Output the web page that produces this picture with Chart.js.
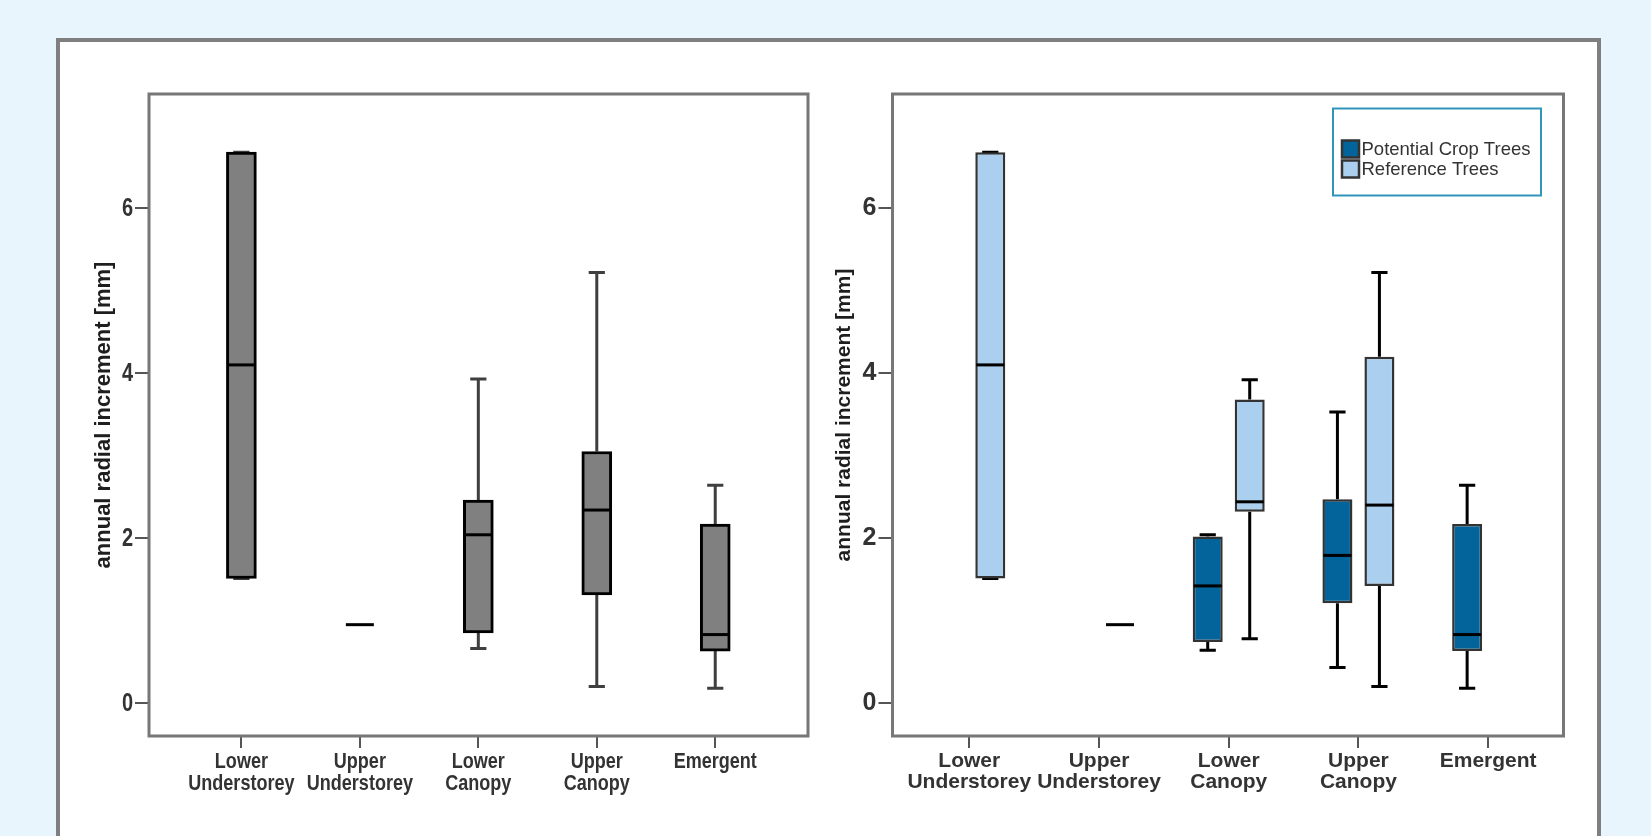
<!DOCTYPE html>
<html>
<head>
<meta charset="utf-8">
<title>annual radial increment</title>
<script src="https://cdn.jsdelivr.net/npm/chart.js@4.4.1/dist/chart.umd.min.js"></script>
<style>
  html, body { margin: 0; padding: 0; }
  body { background: #e9f5fd; width: 1651px; height: 836px; overflow: hidden; position: relative; }
  #marco { position: absolute; left: 56px; top: 38px; width: 1545px; height: 900px; box-sizing: border-box; border: 4.5px solid #7f7f7f; background: #fff; }
  canvas { position: absolute; top: 44px; }
  #graficoTodos { left: 60px; }
  #graficoGrupos { left: 830px; }
</style>
</head>
<body>
<div id="marco"></div>
<canvas id="graficoTodos" width="768" height="792"></canvas>
<canvas id="graficoGrupos" width="768" height="792"></canvas>
<script>
// Categorías del eje x y marcas del eje y
const categorias = [['Lower', 'Understorey'], ['Upper', 'Understorey'], ['Lower', 'Canopy'], ['Upper', 'Canopy'], ['Emergent']];
const ticksY = [0, 2, 4, 6];
const tituloY = 'annual radial increment [mm]';
const etiquetasSeries = ['Potential Crop Trees', 'Reference Trees'];

// Todos los árboles (gráfico izquierdo)
const todosMin = [1.51, 0.95, 0.66, 0.20, 0.18];
const todosQ1 = [1.51, 0.95, 0.85, 1.31, 0.63];
const todosMediana = [4.10, 0.95, 2.04, 2.34, 0.83];
const todosQ3 = [6.68, 0.95, 2.46, 3.05, 2.17];
const todosMax = [6.68, 0.95, 3.93, 5.22, 2.64];

// Potential Crop Trees
const cultivoMin = [null, null, 0.64, 0.43, 0.18];
const cultivoQ1 = [null, null, 0.74, 1.21, 0.63];
const cultivoMediana = [null, null, 1.42, 1.79, 0.83];
const cultivoQ3 = [null, null, 2.02, 2.47, 2.17];
const cultivoMax = [null, null, 2.04, 3.53, 2.64];

// Reference Trees
const refMin = [1.51, 0.95, 0.78, 0.20, null];
const refQ1 = [1.51, 0.95, 2.32, 1.42, null];
const refMediana = [4.10, 0.95, 2.44, 2.40, null];
const refQ3 = [6.68, 0.95, 3.68, 4.20, null];
const refMax = [6.68, 0.95, 3.92, 5.22, null];

const fuenteNormal = "'Liberation Sans', Arial, sans-serif";

// Barras flotantes [q1, q3] para las cajas
function datosCaja(q1, q3) {
    return q1.map((v, i) => ({ x: i, y: v === null ? null : [v, q3[i]] }));
}

// Plugin: marco del área, bigotes y medianas
const pluginCajas = {
    id: 'cajas',
    beforeDatasetsDraw(chart) {
        const ctx = chart.ctx;
        const area = chart.chartArea;
        const escalaY = chart.scales.y;
        ctx.save();
        ctx.strokeStyle = '#777777';
        ctx.lineWidth = 3;
        ctx.strokeRect(area.left, area.top, area.right - area.left, area.bottom - area.top);

        chart.data.datasets.forEach((ds, d) => {
            const meta = chart.getDatasetMeta(d);
            ctx.strokeStyle = ds.colorBigote;
            ctx.lineWidth = 3;
            meta.data.forEach((barra, i) => {
                if (ds.minimos[i] === null || ds.minimos[i] === ds.maximos[i]) return;
                const { x, width } = barra.getProps(['x', 'width'], true);
                const yMin = escalaY.getPixelForValue(ds.minimos[i]);
                const yMax = escalaY.getPixelForValue(ds.maximos[i]);
                const yQ1 = escalaY.getPixelForValue(ds.data[i].y[0]);
                const yQ3 = escalaY.getPixelForValue(ds.data[i].y[1]);
                const medio = width * 0.27;
                ctx.beginPath();
                ctx.moveTo(x, yQ3); ctx.lineTo(x, yMax);
                ctx.moveTo(x, yQ1); ctx.lineTo(x, yMin);
                ctx.moveTo(x - medio, yMax); ctx.lineTo(x + medio, yMax);
                ctx.moveTo(x - medio, yMin); ctx.lineTo(x + medio, yMin);
                ctx.stroke();
            });
        });
        ctx.restore();
    },
    afterDatasetsDraw(chart) {
        const ctx = chart.ctx;
        const escalaY = chart.scales.y;
        ctx.save();
        ctx.strokeStyle = '#000000';
        ctx.lineWidth = 3;
        chart.data.datasets.forEach((ds, d) => {
            const meta = chart.getDatasetMeta(d);
            meta.data.forEach((barra, i) => {
                if (ds.medianas[i] === null) return;
                const { x, width } = barra.getProps(['x', 'width'], true);
                const y = escalaY.getPixelForValue(ds.medianas[i]);
                ctx.beginPath();
                ctx.moveTo(x - width / 2 + 1, y);
                ctx.lineTo(x + width / 2 - 1, y);
                ctx.stroke();
            });
        });
        ctx.restore();
    }
};

// Plugin: etiquetas de ejes en letra estrecha (gráfico izquierdo)
const pluginEstrecho = {
    id: 'estrecho',
    afterDraw(chart, args, opts) {
        if (!opts.display) return;
        const ctx = chart.ctx;
        const area = chart.chartArea;
        const escalaX = chart.scales.x;
        const escalaY = chart.scales.y;
        ctx.save();
        ctx.fillStyle = '#333333';
        ctx.textBaseline = 'middle';
        ctx.font = 'bold 22px ' + fuenteNormal;
        ctx.textAlign = 'center';
        escalaX.ticks.forEach((t) => {
            const x = escalaX.getPixelForValue(t.value);
            categorias[t.value].forEach((linea, j) => {
                ctx.save();
                ctx.translate(x, area.bottom + 26 + j * 22);
                ctx.scale(0.82, 1);
                ctx.fillText(linea, 0, 0);
                ctx.restore();
            });
        });
        ctx.font = 'bold 25px ' + fuenteNormal;
        ctx.textAlign = 'right';
        escalaY.ticks.forEach((t) => {
            ctx.save();
            ctx.translate(area.left - 16, escalaY.getPixelForValue(t.value) + 1);
            ctx.scale(0.8, 1);
            ctx.fillText(String(t.value), 0, 0);
            ctx.restore();
        });
        ctx.restore();
    }
};

// Plugin: leyenda con recuadro dentro del área
const pluginLeyenda = {
    id: 'leyendaCaja',
    afterDraw(chart, args, opts) {
        if (!opts.display) return;
        const ctx = chart.ctx;
        const area = chart.chartArea;
        const ancho = 208, alto = 87;
        const izq = area.right - 22.5 - ancho;
        const arriba = area.top + 14.5;
        ctx.save();
        ctx.strokeStyle = '#2f95b9';
        ctx.lineWidth = 2;
        ctx.strokeRect(izq, arriba, ancho, alto);
        ctx.font = '18.5px ' + fuenteNormal;
        ctx.textBaseline = 'middle';
        chart.data.datasets.forEach((ds, d) => {
            const y = arriba + 32 + d * 20;
            ctx.fillStyle = ds.backgroundColor;
            ctx.fillRect(izq + 9, y, 17, 17);
            ctx.strokeStyle = '#333333';
            ctx.lineWidth = 2.5;
            ctx.strokeRect(izq + 9, y, 17, 17);
            ctx.fillStyle = '#333333';
            ctx.fillText(ds.label, izq + 28.5, y + 9);
        });
        ctx.restore();
    }
};

// Opciones comunes de los ejes
function opcionesGrafico(cfg) {
    return {
        responsive: false,
        animation: false,
        layout: { padding: { left: 0, top: 50, right: cfg.derecha, bottom: 0 } },
        plugins: {
            legend: { display: false },
            tooltip: { enabled: false },
            leyendaCaja: { display: cfg.leyenda },
            estrecho: { display: cfg.estrecho }
        },
        scales: {
            x: {
                type: 'linear',
                min: cfg.xMin,
                max: cfg.xMax,
                offset: false,
                afterBuildTicks: (escala) => { escala.ticks = categorias.map((c, i) => ({ value: i })); },
                afterFit: (escala) => { escala.height = 100; },
                grid: { display: true, offset: false, drawOnChartArea: false, drawTicks: true, tickLength: 12, color: '#555555', lineWidth: 2 },
                border: { display: false },
                ticks: {
                    display: !cfg.estrecho,
                    autoSkip: false,
                    maxRotation: 0,
                    padding: 3,
                    color: '#333333',
                    font: { family: fuenteNormal, size: 21, weight: 'bold', lineHeight: 1.0 },
                    callback: (valor) => categorias[Math.round(valor)]
                }
            },
            y: {
                type: 'linear',
                min: -0.4,
                max: 7.385,
                afterBuildTicks: (escala) => { escala.ticks = ticksY.map(v => ({ value: v })); },
                afterFit: (escala) => { escala.width = cfg.anchoY; },
                grid: { display: true, drawOnChartArea: false, drawTicks: true, tickLength: 14, color: '#555555', lineWidth: 2 },
                border: { display: false },
                ticks: {
                    display: !cfg.estrecho,
                    padding: 2,
                    color: '#333333',
                    font: { family: fuenteNormal, size: 25, weight: 'bold' }
                },
                title: {
                    display: true,
                    text: tituloY,
                    color: '#1e1e1e',
                    padding: { top: cfg.padTitulo, bottom: 0 },
                    font: { family: fuenteNormal, size: cfg.tamTitulo, weight: 'bold' }
                }
            }
        }
    };
}

// Gráfico izquierdo: todos los árboles
new Chart(document.getElementById('graficoTodos'), {
    type: 'bar',
    data: {
        datasets: [{
            label: 'All Trees',
            data: datosCaja(todosQ1, todosQ3),
            minimos: todosMin,
            maximos: todosMax,
            medianas: todosMediana,
            backgroundColor: '#808080',
            borderColor: '#000000',
            borderWidth: 3,
            borderSkipped: false,
            colorBigote: '#3f3f3f',
            categoryPercentage: 1,
            barPercentage: 1,
            maxBarThickness: 30
        }]
    },
    options: opcionesGrafico({ derecha: 20, xMin: -0.78, xMax: 4.783, anchoY: 89, padTitulo: 31, tamTitulo: 22, leyenda: false, estrecho: true }),
    plugins: [pluginCajas, pluginEstrecho, pluginLeyenda]
});

// Gráfico derecho: Potential Crop Trees vs Reference Trees
new Chart(document.getElementById('graficoGrupos'), {
    type: 'bar',
    data: {
        datasets: [{
            label: etiquetasSeries[0],
            data: datosCaja(cultivoQ1, cultivoQ3),
            minimos: cultivoMin,
            maximos: cultivoMax,
            medianas: cultivoMediana,
            backgroundColor: '#02649b',
            borderColor: '#333333',
            borderWidth: 2.5,
            borderSkipped: false,
            colorBigote: '#000000',
            categoryPercentage: 0.6476,
            barPercentage: 1,
            maxBarThickness: 30
        }, {
            label: etiquetasSeries[1],
            data: datosCaja(refQ1, refQ3),
            minimos: refMin,
            maximos: refMax,
            medianas: refMediana,
            backgroundColor: '#abcfee',
            borderColor: '#333333',
            borderWidth: 2.5,
            borderSkipped: false,
            colorBigote: '#000000',
            categoryPercentage: 0.6476,
            barPercentage: 1,
            maxBarThickness: 30
        }]
    },
    options: opcionesGrafico({ derecha: 34.5, xMin: -0.592, xMax: 4.581, anchoY: 62.5, padTitulo: 2, tamTitulo: 21, leyenda: true, estrecho: false }),
    plugins: [pluginCajas, pluginEstrecho, pluginLeyenda]
});
</script>
</body>
</html>
